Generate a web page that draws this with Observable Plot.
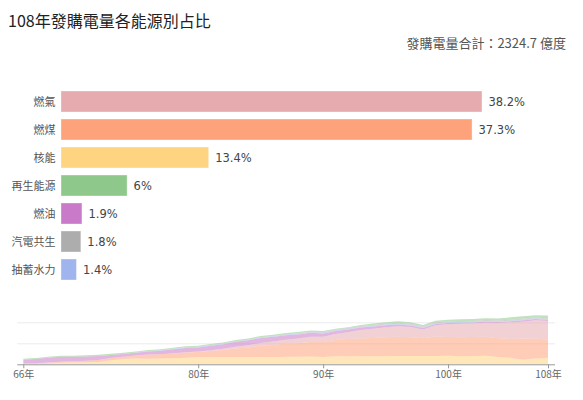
<!DOCTYPE html>
<html>
<head>
<meta charset="utf-8">
<script src="https://cdn.jsdelivr.net/npm/d3@7"></script>
<script src="https://cdn.jsdelivr.net/npm/@observablehq/plot@0.6"></script>
<style>
  html, body { margin: 0; padding: 0; background: #fff; }
  body { width: 583px; height: 400px; position: relative; overflow: hidden; font-family: "Noto Sans CJK TC", "Noto Sans", sans-serif; }
  #title { position: absolute; left: 8px; top: 8px; font-size: 16px; line-height: 24px; color: #222; white-space: nowrap; }
  #subtitle { position: absolute; right: 17px; top: 33px; font-size: 13px; line-height: 20px; color: #555; white-space: nowrap; }
  #bars { position: absolute; left: 0; top: 0; }
  #areas { position: absolute; left: 0; top: 295px; }
</style>
</head>
<body>
<div id="bars"></div>
<div id="areas"></div>
<div id="title">108年發購電量各能源別占比</div>
<div id="subtitle">發購電量合計：2324.7 億度</div>
<script>
// ---- Bar data (108年 shares, %) ----
const categories = ["燃氣", "燃煤", "核能", "再生能源", "燃油", "汽電共生", "抽蓄水力"];
const shares = [38.2, 37.3, 13.4, 6, 1.9, 1.8, 1.4];
const colors = ["#e5abae", "#fea27c", "#ffd480", "#8ec98b", "#c97bc9", "#adadad", "#a0b4ee"];

// ---- Area data (發購電量, 億度), years 66–108 ----
const years = d3.range(66, 109);
const nuclear   = [0,10,40,75,80,95,115,190,250,280,270,275,290,310,350,335,330,330,337,350,340,355,365,367,342,378,370,380,380,385,390,393,400,400,405,386,400,404,352,310,216,277,311.5];
const coal      = [30,32,35,40,60,75,90,100,110,130,190,200,230,250,240,300,350,420,460,530,580,630,640,690,720,780,830,850,870,900,920,900,840,920,900,900,900,910,890,900,1010,940,867.1];
const gas       = [5,5,5,5,5,5,5,5,5,5,5,5,5,10,20,40,60,90,110,140,160,180,220,260,250,280,330,400,440,480,500,480,420,540,600,640,640,670,720,790,800,880,888];
const oil       = [180,200,230,240,215,200,190,150,125,130,150,170,190,210,190,210,220,230,235,235,230,220,200,180,160,150,130,120,110,100,90,80,70,65,60,58,52,50,48,45,75,58,44.2];
const cogen     = [0,0,0,0,0,0,0,0,0,0,0,0,0,0,0,0,0,0,0,5,10,15,20,25,30,35,35,38,40,40,42,42,40,42,42,42,42,42,42,43,44,43,41.8];
const renewable = [55,55,50,45,45,55,50,55,55,45,50,45,45,45,55,55,45,60,60,55,60,60,65,55,50,40,40,55,65,65,70,75,70,80,80,90,95,90,95,115,110,105,139.5];
const pumped    = [0,0,0,0,0,0,0,0,5,15,20,25,25,30,30,30,30,30,30,30,30,30,30,30,30,30,30,32,32,32,33,33,32,32,32,32,32,32,32,32,33,32,32.5];
const xTicks = [66, 80, 90, 100, 108];
const gridValues = [1000, 2000];

const stackOrder = ["核能", "燃煤", "燃氣", "燃油", "抽蓄水力", "汽電共生", "再生能源"];
const seriesByName = {
  "核能": nuclear, "燃煤": coal, "燃氣": gas, "燃油": oil,
  "抽蓄水力": pumped, "汽電共生": cogen, "再生能源": renewable
};

const barData = categories.map((c, i) => ({cat: c, value: shares[i]}));
const areaData = [];
for (const name of stackOrder) {
  years.forEach((y, i) => areaData.push({year: y, source: name, value: seriesByName[name][i]}));
}

const colorScale = {domain: categories, range: colors};
const cjk = "Noto Sans CJK TC";

const bars = Plot.plot({
  width: 583,
  height: 300,
  marginTop: 81,
  marginBottom: 9.4,
  marginLeft: 61,
  marginRight: 50,
  style: {background: "transparent", fontFamily: cjk},
  x: {domain: [0, 42.83], axis: null},
  y: {domain: categories, paddingInner: 0.25, paddingOuter: 0.25, axis: null},
  color: colorScale,
  marks: [
    Plot.barX(barData, {x: "value", y: "cat", fill: "cat", stroke: "#ffffff", strokeOpacity: 0.35, strokeWidth: 1}),
    Plot.text(barData, {x: 0, y: "cat", text: "cat", textAnchor: "end", dx: -6, fontSize: 11, fill: "#555", fontFamily: cjk}),
    Plot.text(barData, {x: "value", y: "cat", text: d => d.value + "%", textAnchor: "start", dx: 6, fontSize: 11.5, fill: "#444", fontFamily: "DejaVu Sans"})
  ]
});
document.getElementById("bars").appendChild(bars);

const areas = Plot.plot({
  width: 583,
  height: 105,
  marginTop: 5,
  marginBottom: 35.7,
  marginLeft: 23.3,
  marginRight: 35,
  style: {background: "transparent", fontFamily: cjk},
  x: {domain: [66, 108], label: null},
  y: {domain: [0, 3062], axis: null},
  color: colorScale,
  marks: [
    Plot.ruleY(gridValues, {x1: 65.52, x2: 108.56, stroke: "#ececec"}),
    Plot.areaY(areaData, {x: "year", y: "value", z: "source", fill: "source", order: stackOrder, fillOpacity: 0.55}),
    Plot.ruleY([0], {x1: 65.52, x2: 108.56, stroke: "#999"}),
    Plot.axisX({ticks: xTicks, tickFormat: d => d + "年", tickSize: 4, tickPadding: 2, fontSize: 10, color: "#666", stroke: "#999", label: null, fontFamily: cjk})
  ]
});
document.getElementById("areas").appendChild(areas);
</script>
</body>
</html>
